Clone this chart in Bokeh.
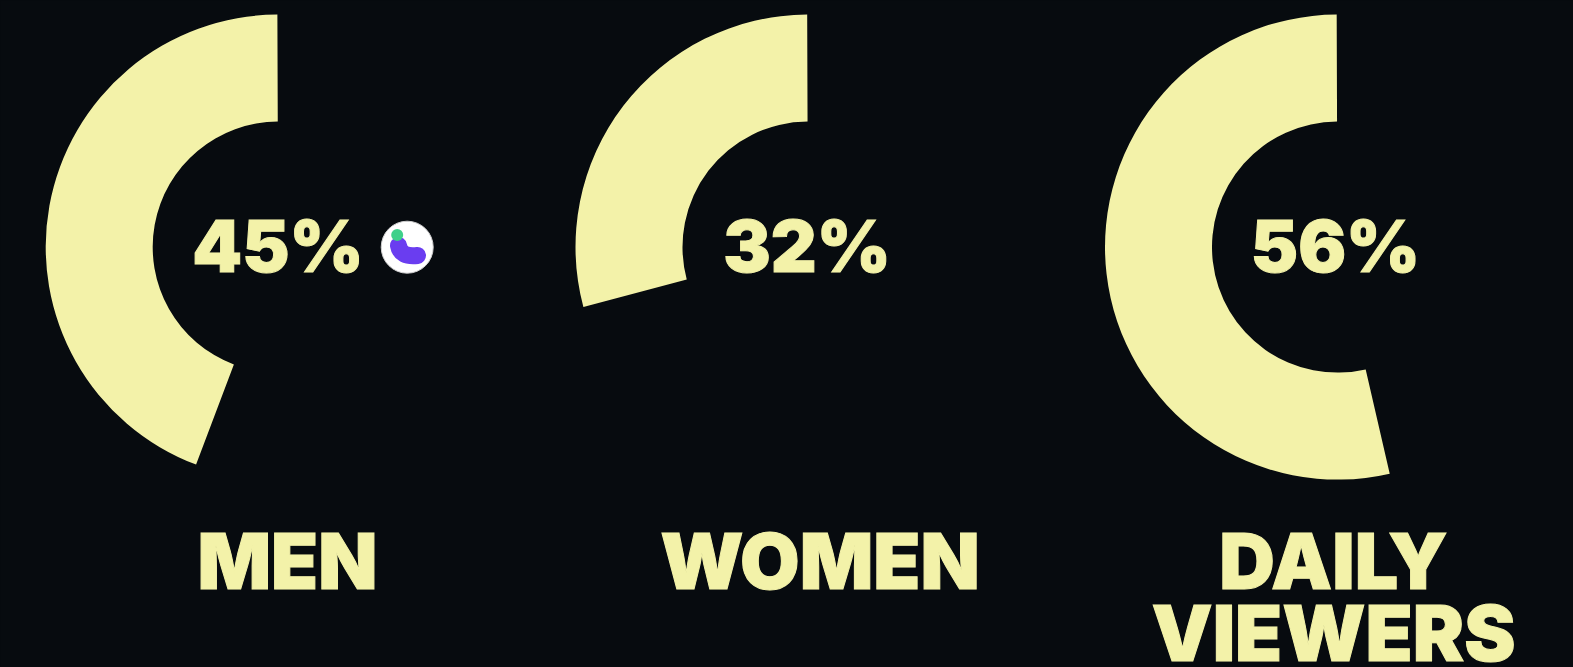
from bokeh.plotting import figure
from bokeh.embed import file_html
from bokeh.resources import INLINE
from bokeh.core.properties import value
from bokeh.models import ColumnDataSource
import math

categories = ["MEN", "WOMEN", "DAILY\nVIEWERS"]
percent_labels = ["45%", "32%", "56%"]
drawn_share = [44.2, 29.1, 53.55]  # visible sweep of each ring, % of a full turn

W, H = 1573, 667
BG, FG = "#070b0f", "#f3f2a9"
FONT = "Inter Black"
centers_x = [277.7, 807.5, 1337]
center_y = H - 246.6
R_OUT, R_IN = 232.5, 125.5
label_x = [287, 819.5, 1333]
pct_x = [277.5, 806.5, 1335]

p = figure(width=W, height=H, x_range=(0, W), y_range=(0, H), output_backend="svg",
           toolbar_location=None, min_border=0, background_fill_color=BG,
           border_fill_color=BG, outline_line_color=None)
p.axis.visible = False
p.grid.visible = False

start = math.pi / 2 + math.radians(0.2)
src = ColumnDataSource(dict(
    x=centers_x, y=[center_y] * 3,
    start=[start] * 3,
    end=[start + s / 100 * 2 * math.pi for s in drawn_share],
))
p.annular_wedge(x="x", y="y", inner_radius=R_IN, outer_radius=R_OUT,
                start_angle="start", end_angle="end", direction="anticlock",
                fill_color=FG, line_color=None, source=src)

p.text(x=pct_x, y=[H - 245] * 3, text=percent_labels, text_font=value(FONT), text_font_size="71px",
       text_color=FG, text_outline_color=FG, text_align="center", text_baseline="alphabetic")

for lx, cat in zip(label_x, categories):
    for i, line in enumerate(cat.split("\n")):
        p.text(x=[lx], y=[H - 560 - 72 * i], text=[line], text_font=value(FONT), text_font_size="77px",
               text_color=FG, text_outline_color=FG, text_align="center", text_baseline="alphabetic")

# emoji badge
p.scatter(x=[406.7], y=[H - 246.7], size=52, marker="circle", fill_color="#ffffff", line_color="#cfcfcf", line_width=1)
p.quadratic(x0=[398], y0=[H - 245], x1=[417], y1=[H - 255], cx=[400], cy=[H - 257],
            line_color="#6a3df0", line_width=17, line_cap="round")
p.scatter(x=[396.7], y=[H - 234.5], size=12, marker="circle", fill_color="#3fd08a", line_color=None)

html = file_html(p, INLINE)
html = html.replace("<head>", "<head><style>html,body{margin:0;background:%s;overflow:hidden}</style>" % BG, 1)
open("out.html", "w").write(html)
